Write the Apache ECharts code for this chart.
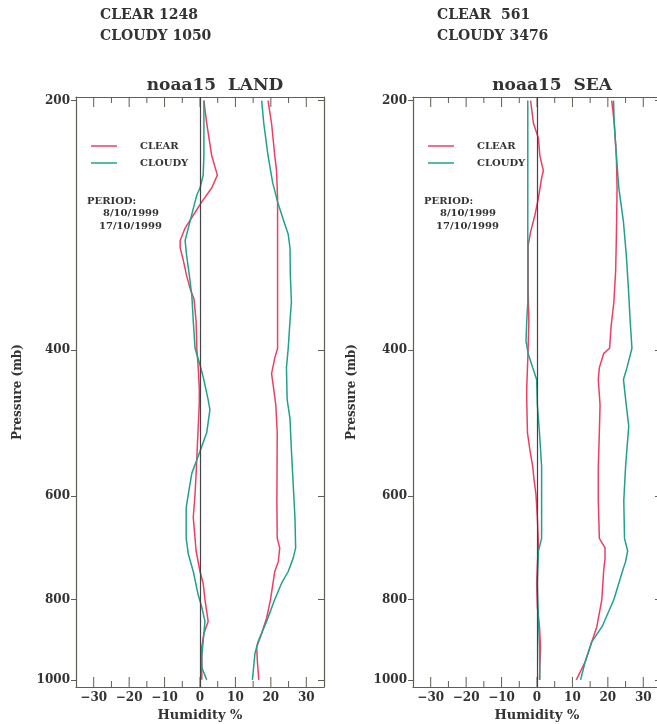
<!DOCTYPE html>
<html>
<head>
    <meta charset="utf-8">
    <script src="https://cdn.jsdelivr.net/npm/echarts@6/dist/echarts.min.js"></script>
    <style>
        body { margin: 0; background: #fff; }
        #main { width: 657px; height: 724px; }
    </style>
</head>
<body>
    <div id="main"></div>
    <script>
        // [pressure mb, humidity %]
        var landClearBias = [[200,1.1],[213,1.9],[233,3.3],[246,4.9],[255,3.3],[265,0.5],[275,-1.9],[285,-4.2],[295,-5.6],[301,-5.6],[312,-4.7],[325,-3.8],[337,-2.8],[347,-1.7],[369,-1.1],[398,-0.9],[420,-0.5],[445,-0.2],[464,-0.2],[528,-0.8],[553,-1.0],[597,-1.4],[637,-1.9],[699,-1.1],[740,0],[765,0.9],[800,1.4],[850,2.3],[879,1.1],[913,0.5],[966,0.5],[1000,0.5]];
        var landCloudyBias = [[200,1.1],[233,1.1],[246,0.9],[255,0],[260,-0.9],[270,-1.9],[285,-3.3],[295,-4.2],[307,-3.8],[325,-3.0],[344,-2.3],[369,-1.9],[398,-1.4],[417,0],[431,0.9],[459,2.3],[472,2.8],[503,1.9],[523,0.5],[543,-0.9],[563,-2.3],[597,-3.3],[620,-3.9],[675,-3.9],[705,-3.3],[740,-1.9],[790,-0.5],[817,0.5],[850,1.4],[899,0.9],[935,0.5],[966,0.5],[1000,1.9]];
        var landClearStd = [[200,19.2],[213,20.2],[233,21.1],[243,21.6],[262,21.9],[300,21.9],[350,21.9],[398,21.9],[409,21.1],[427,20.2],[439,20.6],[466,21.4],[503,21.8],[610,21.7],[675,21.8],[693,22.5],[720,22.1],[740,21.1],[800,19.9],[842,18.8],[879,17.4],[913,16.0],[951,16.2],[1000,16.6]];
        var landCloudyStd = [[200,17.4],[213,18.0],[233,19.2],[251,20.5],[265,21.9],[280,23.7],[290,24.9],[301,25.4],[325,25.5],[350,25.8],[369,25.4],[398,24.9],[420,24.4],[459,24.6],[484,25.4],[528,25.8],[580,26.3],[637,26.8],[693,27.0],[713,26.3],[740,24.9],[765,23.0],[800,21.1],[850,18.8],[899,16.4],[930,15.5],[1000,14.8]];

        var seaClearBias = [[200,-1.8],[213,-1.0],[222,0.4],[233,0.8],[243,1.8],[248,1.3],[262,0.4],[275,-0.6],[288,-1.8],[299,-2.5],[337,-2.5],[369,-2.3],[398,-2.5],[445,-2.9],[459,-2.9],[503,-2.7],[528,-2.0],[553,-1.2],[575,-0.8],[597,-0.3],[637,0.1],[684,0.4],[728,0.1],[765,-0.1],[817,0.1],[862,0.7],[915,1.0],[966,0.8],[1000,0.7]];
        var seaCloudyBias = [[200,-2.6],[350,-2.6],[369,-2.9],[390,-3.1],[404,-2.5],[420,-1.2],[434,-0.1],[466,0.1],[503,0.7],[553,1.3],[597,1.3],[675,1.3],[699,0.4],[765,0.1],[842,0.4],[915,0.7],[1000,0.8]];
        var seaClearStd = [[200,21.1],[213,21.8],[233,22.4],[255,22.6],[293,22.4],[321,22.2],[350,21.7],[375,20.9],[398,20.5],[404,18.8],[420,17.6],[434,17.3],[466,17.8],[503,17.6],[553,17.3],[608,17.3],[675,17.6],[693,19.2],[713,19.2],[740,18.8],[800,18.3],[862,16.9],[899,15.5],[951,13.6],[1000,11.1]];
        var seaCloudyStd = [[200,21.6],[213,21.8],[233,22.4],[255,23.1],[280,24.4],[307,25.2],[337,25.8],[369,26.3],[398,26.8],[420,25.4],[434,24.4],[466,25.2],[494,25.9],[553,25.0],[608,24.5],[675,24.7],[699,25.6],[720,25.0],[740,24.1],[800,21.7],[862,18.4],[899,15.5],[951,13.6],[1000,12.3]];

        var pressureTicks = [200, 400, 600, 800, 1000];
        var humidityMajor = [-30, -20, -10, 0, 10, 20, 30];
        var humidityMinor = [-25, -15, -5, 5, 15, 25];
        var panelTitles = ['noaa15  LAND', 'noaa15  SEA'];
        var countLines = [['CLEAR 1248', 'CLOUDY 1050'], ['CLEAR  561', 'CLOUDY 3476']];
        var periodLines = ['PERIOD:', '8/10/1999', '17/10/1999'];

        var RED = '#ee3f62';
        var TEAL = '#22a08e';
        var AXIS = '#5e5e52';
        var TXT = '#333';
        var FONT = '"DejaVu Serif", serif';

        // pressure is drawn on a log scale
        var yMin = Math.log10(198), yMax = Math.log10(1020);
        var yTicks = pressureTicks.map(function (p) { return Math.log10(p); });

        function toPoints(arr) {
            return arr.map(function (d) { return [d[1], Math.log10(d[0])]; });
        }

        // inward ticks on the top and bottom edges of a box, placed via the x scale
        function tickSeries(g, values, len) {
            return {
                type: 'custom', xAxisIndex: g * 2, yAxisIndex: g * 2, silent: true, clip: false,
                data: values.map(function (v) { return [v, yMin]; }),
                renderItem: function (params, api) {
                    var x = api.value(0);
                    var top = api.coord([x, yMin]);
                    var bot = api.coord([x, yMax]);
                    var st = { stroke: AXIS, lineWidth: 1 };
                    return {
                        type: 'group',
                        children: [
                            { type: 'line', shape: { x1: top[0], y1: top[1], x2: top[0], y2: top[1] + len }, style: st },
                            { type: 'line', shape: { x1: bot[0], y1: bot[1], x2: bot[0], y2: bot[1] - len }, style: st }
                        ]
                    };
                }
            };
        }

        var chart = echarts.init(document.getElementById('main'));

        var gridLefts = [76, 413];
        var grids = [], xAxes = [], yAxes = [], series = [], legends = [], titles = [], graphics = [];

        for (var g = 0; g < 2; g++) {
            // the SEA box runs past the right edge of the page, keep it unclamped
            grids.push({ left: gridLefts[g], top: 97, width: 248, height: 590, containLabel: false, outerBoundsMode: 'none' });

            var xBase = { gridIndex: g, type: 'value', min: -35, max: 35, splitLine: { show: false } };
            xAxes.push(Object.assign({}, xBase, {
                position: 'bottom',
                name: 'Humidity %', nameLocation: 'middle', nameGap: 21,
                nameTextStyle: { fontFamily: FONT, fontWeight: 'bold', fontSize: 13, color: TXT },
                axisLine: { show: true, onZero: false, lineStyle: { color: AXIS, width: 1.2 } },
                axisTick: { show: false },
                axisLabel: { show: true, customValues: humidityMajor, margin: 5, fontFamily: FONT, fontWeight: 'bold', fontSize: 12, color: TXT,
                    formatter: function (v) { return v < 0 ? '\u2212' + Math.abs(v) : String(v); } }
            }));
            xAxes.push(Object.assign({}, xBase, {
                position: 'top',
                axisLine: { show: true, onZero: false, lineStyle: { color: AXIS, width: 1.2 } },
                axisTick: { show: false },
                axisLabel: { show: false }
            }));

            yAxes.push({
                gridIndex: g, type: 'value', position: 'left', inverse: true, min: yMin, max: yMax,
                name: 'Pressure (mb)', nameLocation: 'middle', nameGap: g === 0 ? 52 : 55, nameRotate: 90,
                nameTextStyle: { fontFamily: FONT, fontWeight: 'bold', fontSize: 12, color: TXT },
                splitLine: { show: false },
                axisLine: { show: true, onZero: false, lineStyle: { color: AXIS, width: 1.2 } },
                axisTick: { show: true, inside: false, length: 5, customValues: yTicks, lineStyle: { color: AXIS } },
                axisLabel: { show: true, customValues: yTicks, margin: 6, fontFamily: FONT, fontWeight: 'bold', fontSize: 12, color: TXT,
                    formatter: function (v) { return String(Math.round(Math.pow(10, v))); } }
            });
            yAxes.push({
                gridIndex: g, type: 'value', position: 'right', inverse: true, min: yMin, max: yMax,
                splitLine: { show: false },
                axisLine: { show: true, onZero: false, lineStyle: { color: AXIS, width: 1.2 } },
                axisTick: { show: true, inside: true, length: 6, customValues: yTicks, lineStyle: { color: AXIS } },
                axisLabel: { show: false }
            });

            var sets = g === 0
                ? [landClearBias, landCloudyBias, landClearStd, landCloudyStd]
                : [seaClearBias, seaCloudyBias, seaClearStd, seaCloudyStd];
            var names = ['CLEAR', 'CLOUDY', 'CLEAR', 'CLOUDY'];
            var colors = [RED, TEAL, RED, TEAL];
            for (var s = 0; s < 4; s++) {
                var ser = {
                    name: names[s], type: 'line', xAxisIndex: g * 2, yAxisIndex: g * 2,
                    data: toPoints(sets[s]), showSymbol: false, symbol: 'none',
                    lineStyle: { color: colors[s], width: 1.5 }, itemStyle: { color: colors[s] }
                };
                if (s === 0) {
                    // zero reference line
                    ser.markLine = {
                        silent: true, symbol: 'none', label: { show: false }, animation: false,
                        lineStyle: { color: '#444', type: 'solid', width: 1.2 },
                        data: [{ xAxis: 0 }]
                    };
                }
                series.push(ser);
            }
            series.push(tickSeries(g, humidityMajor, 10));
            series.push(tickSeries(g, humidityMinor, 6));

            legends.push({
                orient: 'vertical', left: gridLefts[g] + 10, top: 135,
                data: ['CLEAR', 'CLOUDY'], icon: 'rect', itemWidth: 26, itemHeight: 1.5, itemGap: 5,
                textStyle: { fontFamily: FONT, fontWeight: 'bold', fontSize: 10, color: TXT, lineHeight: 12, padding: [0, 0, 0, 18] }
            });

            titles.push({
                text: panelTitles[g], left: gridLefts[g] + 134, top: 72, textAlign: 'center',
                textStyle: { fontFamily: FONT, fontWeight: 'bold', fontSize: 17, color: TXT }
            });

            var hx = g === 0 ? 100 : 437;
            graphics.push({ type: 'text', left: hx, top: 8, style: { text: countLines[g][0], font: 'bold 14px ' + FONT, fill: TXT } });
            graphics.push({ type: 'text', left: hx, top: 29, style: { text: countLines[g][1], font: 'bold 14px ' + FONT, fill: TXT } });

            var px = gridLefts[g] + 11;
            graphics.push({ type: 'text', left: px, top: 196, style: { text: periodLines[0], font: 'bold 10px ' + FONT, fill: TXT } });
            graphics.push({ type: 'text', left: px + 16, top: 208, style: { text: periodLines[1], font: 'bold 10px ' + FONT, fill: TXT } });
            graphics.push({ type: 'text', left: px + 12, top: 221, style: { text: periodLines[2], font: 'bold 10px ' + FONT, fill: TXT } });
        }

        var option = {
            animation: false,
            backgroundColor: '#fff',
            title: titles,
            legend: legends,
            grid: grids,
            xAxis: xAxes,
            yAxis: yAxes,
            series: series,
            graphic: graphics
        };
        chart.setOption(option);

        window.onresize = function () {
            chart.resize();
        };
    </script>
</body>
</html>
